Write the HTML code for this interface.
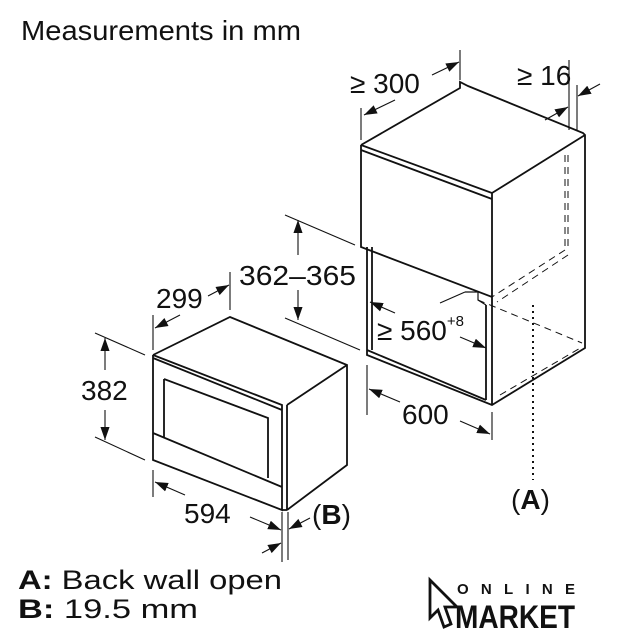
<!DOCTYPE html>
<html><head><style>
body{margin:0;background:#fff}
svg{display:block}
text{font-family:"Liberation Sans",sans-serif;fill:#111}
</style></head><body>
<svg width="620" height="640" viewBox="0 0 620 640" xmlns="http://www.w3.org/2000/svg">
<defs>
<marker id="a" viewBox="0 0 10 10" refX="10" refY="5" markerWidth="13" markerHeight="13" orient="auto" markerUnits="userSpaceOnUse"><path d="M0,1.5 L10,5 L0,8.5z" fill="#111"/></marker>
</defs>
<text x="21" y="40" font-size="28" textLength="280" lengthAdjust="spacingAndGlyphs">Measurements in mm</text>
<g stroke="#111" fill="none" stroke-width="1.8">
<path d="M361,145 L460,88 L460,82 L468,86 L583,133 L585,135 L585,348 L492,405 L367,355 L367,247 M361,145 L361,247 L492,297 L492,193 L361,145 M361,150 L492,199 M492,193 L585,135 M492,297 L492,405 M367,350 L486,400 M486,305 L486,400 M372,247 L372,350"/>
<path d="M465,292 L478,292 L478,300 L486,305" stroke-width="1.2"/>
<g stroke-dasharray="7,5" stroke-width="1">
<path d="M565,155 L565,250 M568,155 L568,250 M565,250 L492,297 M568,255 L497,302 M478,300 L582,343 M500,395 L582,347"/>
</g>
<path d="M533,305 L533,480" stroke-dasharray="2,4" stroke-width="2"/>
<path d="M153,355 L153,460 L282,510 L282,405 L153,355 M153,355 L230,317 L347,365 L347,465 L287,510 M287,405 L347,365 M287,405 L287,510 M153,358 L282,410 M164,379 L164,438 M164,379 L268,418 L268,478 M153,433 L282,487 M282,510 L287,510"/>
</g>
<g stroke="#111" stroke-width="1.1" fill="none">
<path d="M361,108 L361,140 M460,50 L460,80 M569,60 L569,130 M577,85 L577,130"/>
<path d="M395,100 L364,115" marker-end="url(#a)"/><path d="M432,75 L459,62" marker-end="url(#a)"/>
<path d="M545,120 L568,107" marker-end="url(#a)"/><path d="M600,84 L578,96" marker-end="url(#a)"/>
<path d="M285,215 L355,245 M285,318 L360,350"/>
<path d="M298,255 L298,220" marker-end="url(#a)"/><path d="M298,290 L298,320" marker-end="url(#a)"/>
<path d="M153,315 L153,350 M230,272 L230,310"/>
<path d="M180,315 L155,328" marker-end="url(#a)"/><path d="M208,296 L229,285" marker-end="url(#a)"/>
<path d="M95,333 L145,355 M95,437 L145,460"/>
<path d="M105,370 L105,338" marker-end="url(#a)"/><path d="M105,410 L105,440" marker-end="url(#a)"/>
<path d="M153,470 L153,497 M282,512 L282,562 M288,512 L288,560"/>
<path d="M185,495 L155,482" marker-end="url(#a)"/><path d="M250,517 L281,530" marker-end="url(#a)"/>
<path d="M262,553 L281,543" marker-end="url(#a)"/><path d="M310,518 L289,529" marker-end="url(#a)"/>
<path d="M367,365 L367,415 M492,412 L492,440"/>
<path d="M400,402 L369,389" marker-end="url(#a)"/><path d="M460,421 L490,434" marker-end="url(#a)"/>
<path d="M395,313 L370,302" marker-end="url(#a)"/><path d="M460,337 L486,348" marker-end="url(#a)"/>
<path d="M440,303 L465,292"/>
</g>
<g font-size="28">
<text x="350" y="93">≥ 300</text>
<text x="517" y="85">≥ 16</text>
<text x="239" y="285" textLength="117" lengthAdjust="spacingAndGlyphs">362–365</text>
<text x="156" y="308">299</text>
<text x="81" y="400">382</text>
<text x="184" y="523">594</text>
<text x="377" y="340">≥ 560<tspan font-size="15" dy="-14">+8</tspan></text>
<text x="402" y="424">600</text>
<text x="312" y="524">(<tspan font-weight="bold">B</tspan>)</text>
<text x="511" y="509">(<tspan font-weight="bold">A</tspan>)</text>
</g>
<g font-size="27">
<text x="18" y="589" textLength="264" lengthAdjust="spacingAndGlyphs"><tspan font-weight="bold">A:</tspan> Back wall open</text>
<text x="18" y="618" textLength="180" lengthAdjust="spacingAndGlyphs"><tspan font-weight="bold">B:</tspan> 19.5 mm</text>
</g>
<path d="M430,580 L430,618 L438,610 L444,627 L451,624 L445,607 L457,607 Z" fill="none" stroke="#111" stroke-width="2.8"/>
<text x="457" y="594" font-size="15" font-weight="bold" textLength="118" lengthAdjust="spacing">ONLINE</text>
<text x="455" y="628" font-size="32" font-weight="bold" textLength="120" lengthAdjust="spacingAndGlyphs">MARKET</text>
</svg>
</body></html>
